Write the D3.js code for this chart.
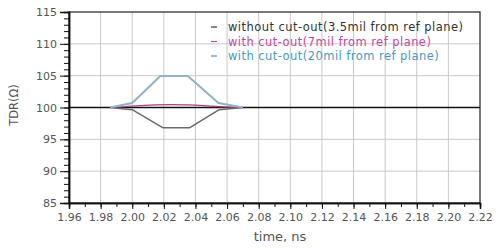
<!DOCTYPE html>
<html>
<head>
<meta charset="utf-8">
<script src="https://cdn.jsdelivr.net/npm/d3@7"></script>
<style>
  body { margin: 0; background: #fff; }
  svg { display: block; font-family: "DejaVu Sans", sans-serif; }
</style>
</head>
<body>
<svg id="chart" width="500" height="248"></svg>
<script>
// data
var seriesNames = [
  "without cut-out(3.5mil from ref plane)",
  "with cut-out(7mil from ref plane)",
  "with cut-out(20mil from ref plane)"
];
var lineColors = ["#6a6a6a", "#a8407e", "#8fb2c6"];
var legendColors = ["#333333", "#c04aa0", "#4a98c4"];

var timeNoCut = [1.986, 2.000, 2.0195, 2.0362, 2.055, 2.070];
var tdrNoCut  = [100.0, 99.65, 96.8, 96.8, 99.65, 100.0];

var time7mil = [1.986, 1.995, 2.005, 2.015, 2.025, 2.035, 2.045, 2.055, 2.063, 2.070];
var tdr7mil  = [100.0, 100.12, 100.3, 100.42, 100.45, 100.4, 100.3, 100.15, 100.05, 100.0];

var time20mil = [1.986, 2.000, 2.0178, 2.0352, 2.0545, 2.070];
var tdr20mil  = [100.0, 100.7, 104.95, 104.95, 100.7, 100.0];

var xTicks = [1.96, 1.98, 2.00, 2.02, 2.04, 2.06, 2.08, 2.10, 2.12, 2.14, 2.16, 2.18, 2.20, 2.22];
var yTicks = [85, 90, 95, 100, 105, 110, 115];

var svg = d3.select("#chart");
var margin = {top: 12, right: 20, bottom: 45, left: 69},
    width = 480 - margin.left,
    height = 203 - margin.top;

var x = d3.scaleLinear().domain([1.96, 2.22]).range([0, width]);
var y = d3.scaleLinear().domain([85, 115]).range([height, 0]);

var g = svg.append("g")
    .attr("transform", "translate(" + margin.left + "," + margin.top + ")");

// grid
g.append("g").selectAll("line")
    .data(xTicks.slice(1, -1))
  .enter().append("line")
    .attr("x1", function(d) { return x(d); })
    .attr("x2", function(d) { return x(d); })
    .attr("y1", 0).attr("y2", height)
    .attr("stroke", "#c8c8c8").attr("stroke-width", 1);

g.append("g").selectAll("line")
    .data(yTicks.slice(1, -1).filter(function(d) { return d !== 100; }))
  .enter().append("line")
    .attr("x1", 0).attr("x2", width)
    .attr("y1", function(d) { return y(d); })
    .attr("y2", function(d) { return y(d); })
    .attr("stroke", "#c8c8c8").attr("stroke-width", 1);

// frame
g.append("rect")
    .attr("width", width).attr("height", height)
    .attr("fill", "none").attr("stroke", "#222").attr("stroke-width", 1.2);

// reference line at 100 ohm
g.append("line")
    .attr("x1", 0).attr("x2", width)
    .attr("y1", y(100)).attr("y2", y(100))
    .attr("stroke", "#111").attr("stroke-width", 1.3);

// minor ticks
var yMinor = d3.range(85, 116, 1);
var xMinor = d3.range(0, 27).map(function(i) { return 1.96 + i * 0.01; });

var yAxis = g.append("g")
    .call(d3.axisLeft(y).tickValues(yMinor).tickSize(5).tickFormat(""));
yAxis.append("g")
    .call(d3.axisLeft(y).tickValues(yTicks).tickSize(9).tickPadding(3)
      .tickFormat(d3.format("d")));

var xAxis = g.append("g")
    .attr("transform", "translate(0," + height + ")")
    .call(d3.axisBottom(x).tickValues(xMinor).tickSize(4).tickFormat(""));
xAxis.append("g")
    .call(d3.axisBottom(x).tickValues(xTicks).tickSize(6).tickPadding(4)
      .tickFormat(d3.format(".2f")));

g.selectAll(".domain").attr("stroke", "#111").attr("stroke-width", 1.5);
g.selectAll(".tick line").attr("stroke", "#111");
g.selectAll(".tick text")
    .attr("font-size", "11px")
    .attr("font-family", "DejaVu Sans, sans-serif")
    .attr("fill", "#555");

// series lines
var line = d3.line()
    .x(function(d) { return x(d[0]); })
    .y(function(d) { return y(d[1]); });
var smooth = d3.line()
    .x(function(d) { return x(d[0]); })
    .y(function(d) { return y(d[1]); })
    .curve(d3.curveMonotoneX);

var series = [
  {pts: d3.zip(timeNoCut, tdrNoCut), gen: line, w: 1.5},
  {pts: d3.zip(time7mil, tdr7mil), gen: smooth, w: 1.2},
  {pts: d3.zip(time20mil, tdr20mil), gen: line, w: 2}
];
series.forEach(function(s, i) {
  g.append("path")
      .attr("d", s.gen(s.pts))
      .attr("fill", "none")
      .attr("stroke", lineColors[i])
      .attr("stroke-width", s.w)
      .attr("stroke-linejoin", "round");
});

// legend
var legend = svg.append("g").attr("font-size", "11.5px").attr("letter-spacing", "0.45px");
seriesNames.forEach(function(name, i) {
  var ly = 27 + i * 14.5;
  legend.append("line")
      .attr("x1", 211).attr("x2", 217)
      .attr("y1", ly).attr("y2", ly)
      .attr("stroke", legendColors[i]).attr("stroke-width", 1.2);
  legend.append("text")
      .attr("x", 228).attr("y", ly + 4)
      .attr("fill", legendColors[i])
      .text(name);
});

// axis titles
svg.append("text")
    .attr("transform", "translate(18,105) rotate(-90)")
    .attr("text-anchor", "middle")
    .attr("font-size", "11.5px")
    .attr("fill", "#555")
    .text("TDR(Ω)");

svg.append("text")
    .attr("x", 280)
    .attr("y", 241)
    .attr("text-anchor", "middle")
    .attr("font-size", "13px")
    .attr("fill", "#555")
    .text("time, ns");
</script>
</body>
</html>
